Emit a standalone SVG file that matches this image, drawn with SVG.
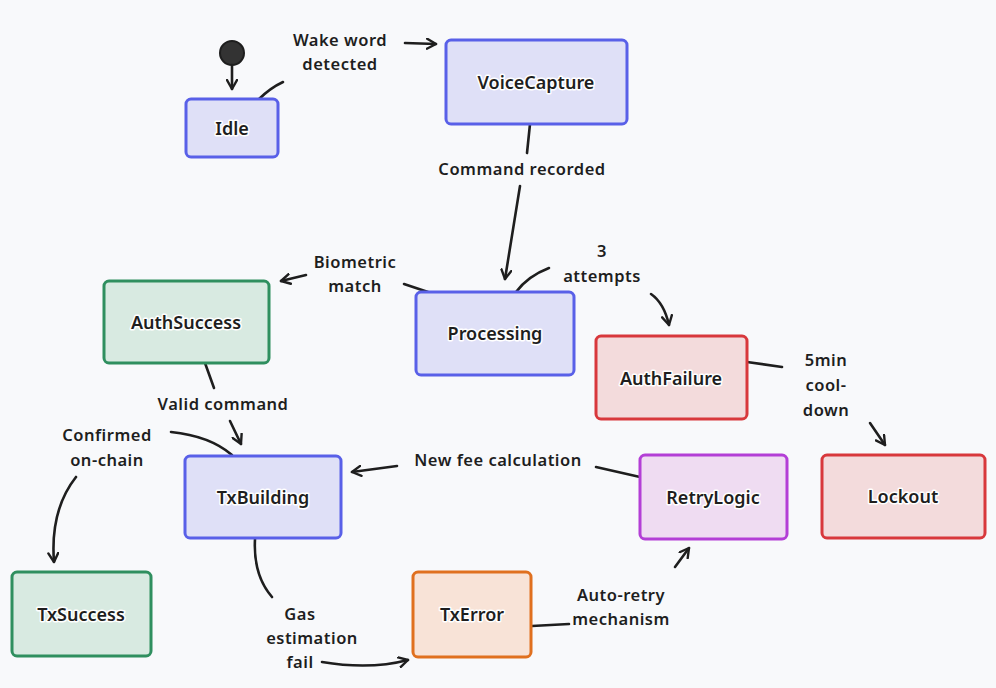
<svg xmlns="http://www.w3.org/2000/svg" width="996" height="688" viewBox="0 0 996 688">
<defs>
<marker id="ah" viewBox="0 0 12 12" refX="10" refY="6" markerWidth="12" markerHeight="12" markerUnits="userSpaceOnUse" orient="auto">
<path d="M1,1 L10,6 L1,11" fill="none" stroke="#1e1e1e" stroke-width="2.4" stroke-linecap="round" stroke-linejoin="round"/>
</marker>
<style>
.n rect{stroke-width:3}
.blue rect{fill:#dfe0f7;stroke:#5960e8}
.green rect{fill:#d8eae1;stroke:#2f8f5f}
.red rect{fill:#f3dbdc;stroke:#d8383c}
.purple rect{fill:#efdcf2;stroke:#b33fd6}
.orange rect{fill:#f8e3d7;stroke:#e0701f}
.n text{font-family:"Noto Sans","Open Sans",sans-serif;font-size:18px;font-weight:600;fill:#1e1e1e;text-anchor:middle;dominant-baseline:central;stroke:#ffffff;stroke-width:3;paint-order:stroke;stroke-linejoin:round}
.e path{fill:none;stroke:#1e1e1e;stroke-width:2.6;stroke-linecap:round}
.e .a{marker-end:url(#ah)}
.lbl{font-family:"Noto Sans","Open Sans",sans-serif;font-size:16.5px;font-weight:600;fill:#1e1e1e;text-anchor:middle;letter-spacing:0.5px}
</style>
</defs>
<rect width="996" height="688" fill="#f8f9fb"/>
<g id="start">
<circle cx="232" cy="53" r="12" fill="#333333" stroke="#1e1e1e" stroke-width="2"/>
</g>
<g id="connectors" class="e">
<path class="a" d="M232,65 L232,89"/>
<path d="M258,100 Q270,88 283,82"/>
<path class="a" d="M405,43 L436,44"/>
<path d="M530,124 L527,153"/>
<path class="a" d="M520,186 L505,279"/>
<path d="M428,292 L404,284"/>
<path class="a" d="M306,275 L281,281"/>
<path d="M516,292 Q528,276 549,268"/>
<path class="a" d="M651,294 Q664,303 669,325"/>
<path d="M205,363 L214,388"/>
<path class="a" d="M230,421 L241,444"/>
<path d="M232,455 Q210,436 171,432"/>
<path class="a" d="M76,477 Q50,510 54,562"/>
<path d="M255,539 Q253,575 272,597"/>
<path class="a" d="M322,662 Q370,670 408,660"/>
<path d="M532,626 L569,624"/>
<path class="a" d="M675,567 L689,548"/>
<path d="M640,477 L596,467"/>
<path class="a" d="M397,466 L352,472"/>
<path d="M747,362 L782,367"/>
<path class="a" d="M870,423 L885,445"/>
<text class="lbl" x="340" y="46">Wake word</text>
<text class="lbl" x="340" y="70">detected</text>
<text class="lbl" x="522" y="175">Command recorded</text>
<text class="lbl" x="355" y="268">Biometric</text>
<text class="lbl" x="355" y="292">match</text>
<text class="lbl" x="602" y="257">3</text>
<text class="lbl" x="602" y="282">attempts</text>
<text class="lbl" x="223" y="410">Valid command</text>
<text class="lbl" x="107" y="441">Confirmed</text>
<text class="lbl" x="107" y="466">on-chain</text>
<text class="lbl" x="300" y="620">Gas</text>
<text class="lbl" x="312" y="644">estimation</text>
<text class="lbl" x="300" y="668">fail</text>
<text class="lbl" x="621" y="601">Auto-retry</text>
<text class="lbl" x="621" y="625">mechanism</text>
<text class="lbl" x="498" y="466">New fee calculation</text>
<text class="lbl" x="826" y="366">5min</text>
<text class="lbl" x="826" y="391">cool-</text>
<text class="lbl" x="826" y="416">down</text>
</g>
<g id="Idle" class="n blue"><rect x="186" y="99" width="92" height="58" rx="5"/><text x="232" y="128">Idle</text></g>
<g id="VoiceCapture" class="n blue"><rect x="446" y="40" width="181" height="84" rx="5"/><text x="536" y="82">VoiceCapture</text></g>
<g id="Processing" class="n blue"><rect x="416" y="292" width="158" height="83" rx="5"/><text x="495" y="333">Processing</text></g>
<g id="AuthSuccess" class="n green"><rect x="104" y="281" width="165" height="82" rx="5"/><text x="186" y="322">AuthSuccess</text></g>
<g id="AuthFailure" class="n red"><rect x="596" y="336" width="151" height="83" rx="5"/><text x="671" y="378">AuthFailure</text></g>
<g id="TxBuilding" class="n blue"><rect x="185" y="456" width="156" height="82" rx="5"/><text x="263" y="497">TxBuilding</text></g>
<g id="RetryLogic" class="n purple"><rect x="640" y="455" width="147" height="84" rx="5"/><text x="713" y="497">RetryLogic</text></g>
<g id="Lockout" class="n red"><rect x="822" y="455" width="163" height="83" rx="5"/><text x="903" y="496">Lockout</text></g>
<g id="TxSuccess" class="n green"><rect x="12" y="572" width="139" height="84" rx="5"/><text x="81" y="614">TxSuccess</text></g>
<g id="TxError" class="n orange"><rect x="413" y="572" width="118" height="85" rx="5"/><text x="472" y="614">TxError</text></g>
</svg>
